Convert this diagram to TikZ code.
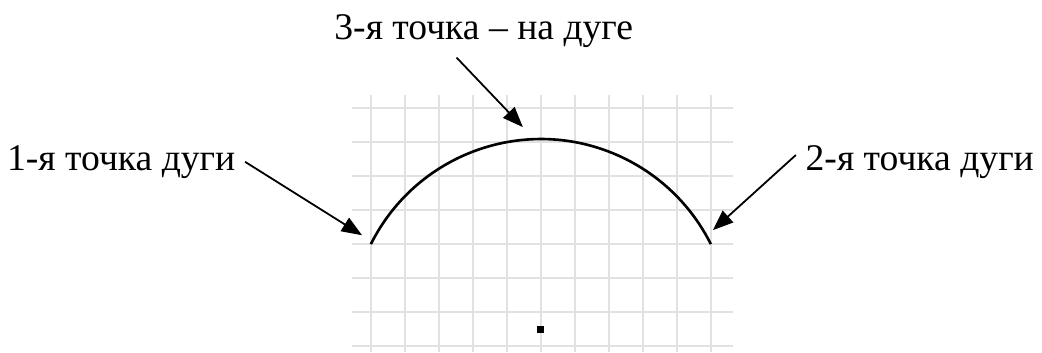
\documentclass[tikz,border=0pt]{standalone}
\usepackage{fontspec}
\setmainfont{Liberation Serif}
\usepackage{tikz}
\usetikzlibrary{arrows.meta, positioning}
\definecolor{gridgray}{RGB}{225, 225, 225}

\begin{document}
\begin{tikzpicture}[
			gridline/.style={draw=gridgray, line width=1.5pt},
			arcline/.style={line width=2.2pt, black},
			dot/.style={rectangle, fill=black, inner sep=0pt, minimum size=0.21cm},
			arrow/.style={-{Triangle[length=6mm, width=4.6mm]}, line width=1.5pt},
			note/.style={font=\fontsize{31.5}{36}\selectfont, inner sep=8pt}
		]
		\useasboundingbox (-10.91,-3.18) rectangle (19.74,7.18);
		
		% Grid
		\foreach \x in {0,...,10}
			\draw[gridline] (\x,-3.18) -- (\x,4.38);
		\foreach \y in {-3,...,4}
			\draw[gridline] (-0.56,\y) -- (10.65,\y);
		
		% Arc through three points and its centre
		\draw[arcline] (0,0) arc[start angle=153.43, end angle=26.57, radius=5.59];
		\node[dot] (centre) at (5,-2.5) {};
		
		% Points pointed at
		\coordinate (p1) at (-0.26,0.26);
		\coordinate (p2) at (10.06,0.41);
		\coordinate (p3) at (4.47,3.44);
		
		% Labels
		\node[note, anchor=east] (first) at (-3.7,2.42) {1-я точка дуги};
		\node[note, anchor=west] (second) at (12.5,2.42) {2-я точка дуги};
		\node[note] (third) at (3.32,6.26) {3-я точка – на дуге};
		
		% Arrows
		\draw[arrow] (first.east) -- (p1);
		\draw[arrow] ([yshift=0.2cm]second.west) -- (p2);
		\draw[arrow] ([xshift=-0.8cm]third.south) -- (p3);
\end{tikzpicture}
\end{document}
